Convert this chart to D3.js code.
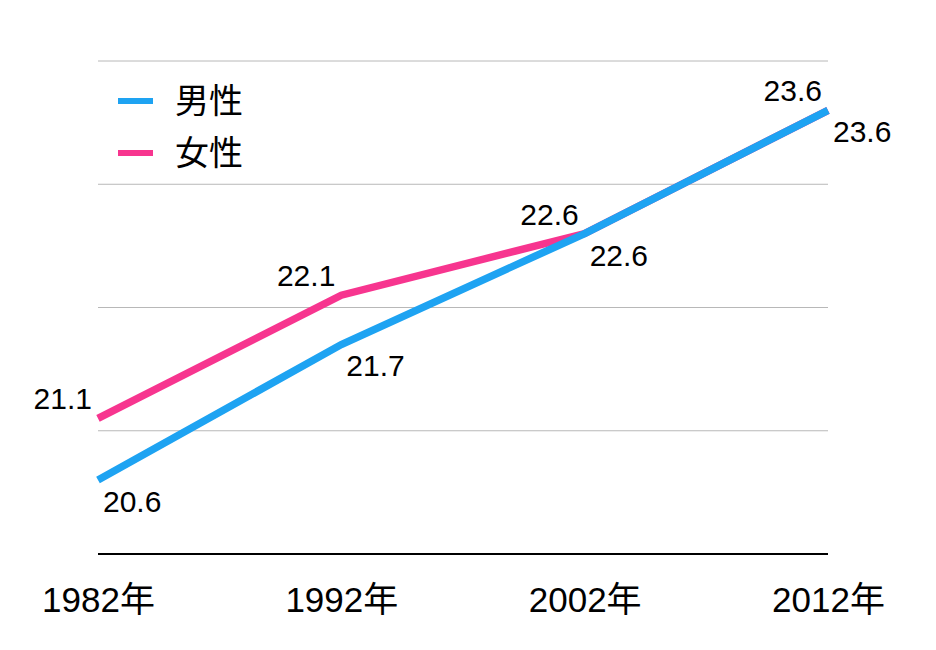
<!DOCTYPE html>
<html><head><meta charset="utf-8">
<script src="https://cdn.jsdelivr.net/npm/d3@7/dist/d3.min.js"></script>
<style>body{margin:0;background:#fff;} svg{display:block;} text{font-family:"Liberation Sans","Noto Sans CJK JP",sans-serif;fill:#000;}</style>
</head><body>
<svg id="chart" width="936" height="650"></svg>
<script>
const years = ["1982年","1992年","2002年","2012年"];
const male = [20.6, 21.7, 22.6, 23.6];
const female = [21.1, 22.1, 22.6, 23.6];
const seriesNames = ["男性","女性"];
const yTicks = [20, 21, 22, 23, 24];
const colors = {"男性":"#1ea3f2","女性":"#f7358f"};

const svg = d3.select("#chart");
const x = d3.scalePoint().domain(years).range([98, 828]);
const y = d3.scaleLinear().domain([20, 24]).range([554, 61]);

// grid
svg.append("g").selectAll("line").data(yTicks.filter(d=>d>20)).join("line")
  .attr("x1",98).attr("x2",828).attr("y1",d=>y(d)).attr("y2",d=>y(d))
  .attr("stroke","#b8b8b8").attr("stroke-width",1);

// x axis
const xAxis = svg.append("g").attr("transform",`translate(0,${y(20)})`)
  .call(d3.axisBottom(x).tickSize(0));
xAxis.select(".domain").attr("d","M98,0H828").attr("stroke","#000").attr("stroke-width",2);
xAxis.selectAll("text").attr("y",58).attr("dy",null).attr("font-size",35)
  .attr("font-family",'"Liberation Sans","Noto Sans CJK JP",sans-serif').attr("fill","#000");

const line = d3.line().x((d,i)=>x(years[i])).y(d=>y(d));
svg.append("path").datum(female).attr("d",line).attr("fill","none")
  .attr("stroke",colors["女性"]).attr("stroke-width",7.5);
svg.append("path").datum(male).attr("d",line).attr("fill","none")
  .attr("stroke",colors["男性"]).attr("stroke-width",7.5);

// labels
svg.append("g").selectAll("text").data(female).join("text")
  .attr("x",(d,i)=>x(years[i])-6).attr("y",d=>y(d)-9)
  .attr("text-anchor","end").attr("font-size",30).text(d=>d.toFixed(1));
svg.append("g").selectAll("text").data(male).join("text")
  .attr("x",(d,i)=>x(years[i])+5).attr("y",d=>y(d)+32)
  .attr("text-anchor","start").attr("font-size",30).text(d=>d.toFixed(1));

// legend
const lg = svg.append("g").selectAll("g").data(seriesNames).join("g")
  .attr("transform",(d,i)=>`translate(118,${101+i*52})`);
lg.append("line").attr("x1",0).attr("x2",35).attr("stroke",d=>colors[d]).attr("stroke-width",6);
lg.append("text").attr("x",57).attr("dy","0.36em").attr("font-size",34).text(d=>d);
</script>
</body></html>
